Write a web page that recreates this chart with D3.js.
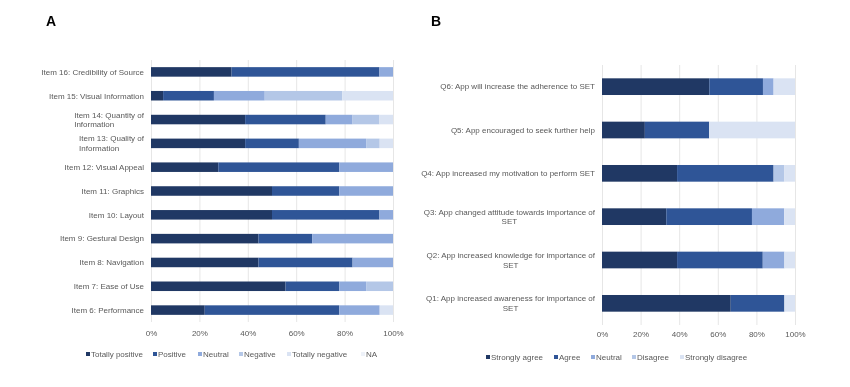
<!DOCTYPE html>
<html>
<head>
<meta charset="utf-8">
<script src="https://cdn.jsdelivr.net/npm/d3@7"></script>
<style>
  body { margin: 0; background: #fff; }
  text { font-family: "Liberation Sans", Arial, sans-serif; }
  svg { will-change: transform; }
</style>
</head>
<body>
<div id="chart"></div>
<script>
// Panel A data (percent of respondents)
var itemsA = ["Item 16: Credibility of Source", "Item 15: Visual Information",
  "Item 14: Quantity of\nInformation", "Item 13: Quality of\nInformation",
  "Item 12: Visual Appeal", "Item 11: Graphics", "Item 10: Layout",
  "Item 9: Gestural Design", "Item 8: Navigation", "Item 7: Ease of Use",
  "Item 6: Performance"];
var seriesA = ["Totally positive", "Positive", "Neutral", "Negative", "Totally negative", "NA"];
var totallyPositive = [33.3, 5.0, 38.9, 38.9, 27.8, 50.0, 50.0, 44.4, 44.4, 55.6, 22.2];
var positive        = [61.1, 21.0, 33.3, 22.2, 50.0, 27.8, 44.4, 22.2, 38.9, 22.2, 55.6];
var neutral         = [5.6, 21.0, 11.1, 27.8, 22.2, 22.2, 5.6, 33.4, 16.7, 11.1, 16.7];
var negative        = [0, 32.0, 11.1, 5.6, 0, 0, 0, 0, 0, 11.1, 0];
var totallyNegative = [0, 21.0, 5.6, 5.5, 0, 0, 0, 0, 0, 0, 5.5];
var na              = [0, 0, 0, 0, 0, 0, 0, 0, 0, 0, 0];

// Panel B data
var questionsB = ["Q6: App will increase the adherence to SET",
  "Q5: App encouraged to seek further help",
  "Q4: App increased my motivation to perform SET",
  "Q3: App changed attitude towards importance of\nSET",
  "Q2: App increased knowledge for importance of\nSET",
  "Q1: App increased awareness for importance of\nSET"];
var seriesB = ["Strongly agree", "Agree", "Neutral", "Disagree", "Strongly disagree"];
var stronglyAgree    = [55.6, 22.2, 38.9, 33.3, 38.9, 66.7];
var agree            = [27.8, 33.3, 50.0, 44.4, 44.4, 27.8];
var neutralB         = [5.5, 0, 0, 16.7, 11.2, 0];
var disagree         = [0, 0, 5.6, 0, 0, 0];
var stronglyDisagree = [11.1, 44.5, 5.5, 5.6, 5.5, 5.5];

var ticks = [0, 20, 40, 60, 80, 100];
var coloursA = ["#203864", "#2f5597", "#8faadc", "#b4c7e7", "#dae3f3", "#eef2f9"];
var coloursB = ["#203864", "#2f5597", "#8faadc", "#b4c7e7", "#dae3f3"];
var textColour = "#595959";

var svg = d3.select("#chart").append("svg")
    .attr("width", 850)
    .attr("height", 387);

function panel(opt) {
  var rows = opt.cats.map(function (c, i) {
    var r = { cat: c };
    opt.series.forEach(function (s, j) { r[s] = opt.values[j][i]; });
    return r;
  });
  var stacked = d3.stack().keys(opt.series)(rows);

  var x = d3.scaleLinear().domain([0, 100]).range([opt.x0, opt.x1]);
  var y = d3.scaleBand().domain(opt.cats).range([opt.y0, opt.y1]).paddingInner(opt.pad).paddingOuter(opt.pad / 2);
  var color = d3.scaleOrdinal().domain(opt.series).range(opt.colours);

  var g = svg.append("g");

  // grid
  g.selectAll(".grid").data(ticks).enter().append("line")
    .attr("x1", function (d) { return x(d) + 0.5; })
    .attr("x2", function (d) { return x(d) + 0.5; })
    .attr("y1", opt.y0)
    .attr("y2", opt.y1)
    .attr("stroke", "#e6e6e6")
    .attr("stroke-width", 1);

  g.selectAll(".layer").data(stacked).enter().append("g")
    .attr("fill", function (d) { return color(d.key); })
    .selectAll("rect").data(function (d) { return d; }).enter().append("rect")
    .attr("x", function (d) { return x(d[0]); })
    .attr("width", function (d) { return x(d[1]) - x(d[0]); })
    .attr("y", function (d) { return y(d.data.cat); })
    .attr("height", y.bandwidth());

  // x axis
  var xAxis = d3.axisBottom(x).tickValues(ticks).tickSize(0).tickPadding(0)
    .tickFormat(function (d) { return d + "%"; });
  var ax = g.append("g")
    .attr("transform", "translate(0," + opt.tickY + ")")
    .call(xAxis);
  ax.select(".domain").remove();
  ax.selectAll("text").attr("fill", textColour).style("font-size", "8px")
    .style("font-family", "Liberation Sans, Arial, sans-serif");

  // y labels
  var lab = g.selectAll(".lab").data(opt.cats).enter().append("text")
    .attr("fill", textColour)
    .style("font-size", "8px")
    .attr("text-anchor", "end");
  lab.each(function (d) {
    var lines = d.split("\n");
    var t = d3.select(this);
    var cy = y(d) + y.bandwidth() / 2;
    var ly = cy - (lines.length - 1) * 4.7 + 2.8;
    lines.forEach(function (l, i) {
      t.append("tspan").attr("x", opt.labelX).attr("y", ly + i * 9.4).text(l);
    });
    if (lines.length > 1) {
      var w = t.select("tspan").node().getComputedTextLength();
      if (opt.center) {
        // lines centred on the first line
        t.attr("text-anchor", "middle");
        t.selectAll("tspan").attr("x", opt.labelX - w / 2);
      } else {
        // block right aligned, lines left aligned
        t.attr("text-anchor", "start");
        t.selectAll("tspan").attr("x", opt.labelX - w);
      }
    }
  });

  // legend
  var lg = g.selectAll(".lg").data(opt.series).enter().append("g")
    .attr("transform", function (d, i) { return "translate(" + opt.legendX[i] + "," + opt.legendY + ")"; });
  lg.append("rect").attr("x", 0).attr("y", -5).attr("width", 4).attr("height", 4)
    .attr("fill", function (d) { return color(d); });
  lg.append("text").attr("x", 5).attr("y", 0)
    .attr("fill", textColour).style("font-size", "8px")
    .text(function (d) { return d; });

  // panel letter
  svg.append("text").attr("x", opt.letterX).attr("y", 26)
    .style("font-size", "14px").style("font-weight", "bold").attr("fill", "#000")
    .text(opt.letter);
}

panel({
  cats: itemsA, series: seriesA, colours: coloursA,
  values: [totallyPositive, positive, neutral, negative, totallyNegative, na],
  x0: 151, x1: 393, y0: 60, y1: 322, pad: 0.6,
  tickY: 330, labelX: 144, center: false,
  legendX: [86, 153, 198, 239, 287, 361], legendY: 357,
  letter: "A", letterX: 46
});

panel({
  cats: questionsB, series: seriesB, colours: coloursB,
  values: [stronglyAgree, agree, neutralB, disagree, stronglyDisagree],
  x0: 602, x1: 795, y0: 65, y1: 325, pad: 0.615,
  tickY: 331, labelX: 595, center: true,
  legendX: [486, 554, 591, 632, 680], legendY: 360,
  letter: "B", letterX: 431
});
</script>
</body>
</html>
